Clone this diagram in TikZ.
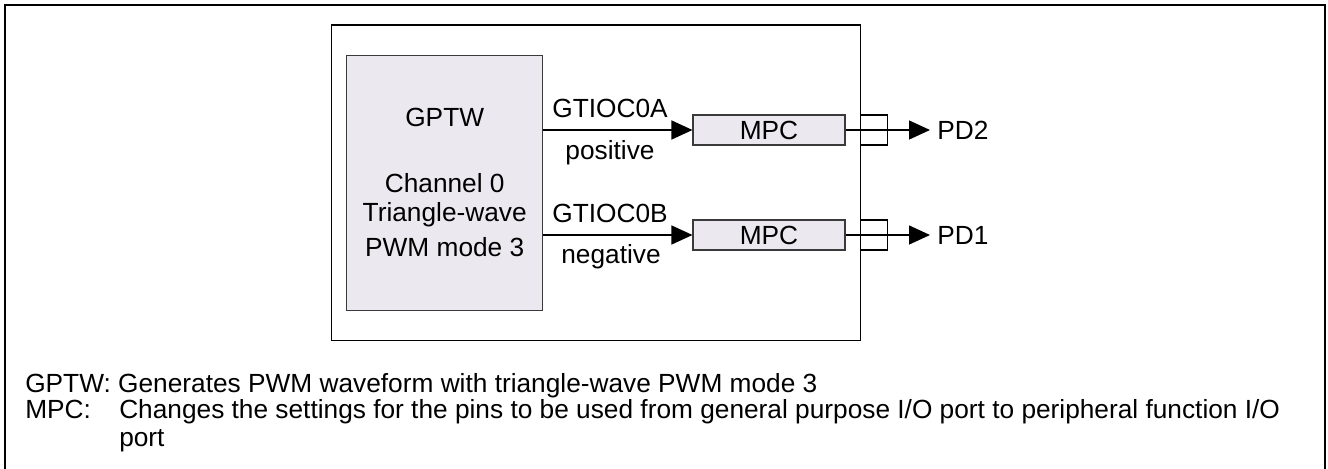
\documentclass[tikz,border=0pt]{standalone}
\usepackage{fontspec}
\setmainfont{Liberation Sans}
\usetikzlibrary{arrows.meta}
\definecolor{boxfill}{HTML}{EBE8F0}
\definecolor{boxline}{HTML}{3A3A3A}
\begin{document}
\begin{tikzpicture}[x=0.75pt,y=-0.75pt,
  font=\fontsize{19.7}{23}\selectfont,
  blockbox/.style={draw=boxline,fill=boxfill,line width=0.8pt,inner sep=0pt},
  pinbox/.style={draw=black,line width=0.8pt,inner sep=0pt,minimum width=20.25pt,minimum height=22.5pt},
  sig/.style={line width=1pt,-{Triangle[length=15.75pt,width=14.25pt]}},
  lbl/.style={inner sep=0pt},
  note/.style={inner sep=0pt,anchor=base west}]
\useasboundingbox (0,0) rectangle (1328,468);
% outer frame
\draw[line width=1.9pt] (5,5) rectangle (1325,490);
% inner frame
\node[draw=black,line width=1pt,inner sep=0pt,minimum width=396.6pt,minimum height=236.8pt] (frame) at (596.1,182.85) {};
% GPTW block
\node[blockbox,minimum width=147pt,minimum height=191.25pt] (gptw) at (444.7,183.2) {};
\node[lbl] (t1) at (444.7,117.5) {GPTW};
\node[lbl] (t2) at (444.7,183) {Channel 0};
\node[lbl] (t3) at (444.7,215) {Triangle-wave};
\node[lbl] (t4) at (444.7,246.7) {PWM mode 3};
% MPC blocks
\node[blockbox,minimum width=114pt,minimum height=22.5pt] (mpcA) at (769,130) {MPC};
\node[blockbox,minimum width=114pt,minimum height=22.5pt] (mpcB) at (769,235) {MPC};
% pins
\node[pinbox] (pinA) at (874.2,130) {};
\node[pinbox] (pinB) at (874.2,235) {};
\coordinate (tipA) at (930,130);
\coordinate (tipB) at (930,235);
% connectors
\draw[sig] (gptw.east |- mpcA.west) -- (mpcA.west);
\draw[sig] (gptw.east |- mpcB.west) -- (mpcB.west);
\draw[sig] (mpcA.east) -- (tipA);
\draw[sig] (mpcB.east) -- (tipB);
% labels
\node[lbl] (la) at (610,108) {GTIOC0A};
\node[lbl] (lb) at (610,153) {positive};
\node[lbl] (lc) at (610,213) {GTIOC0B};
\node[lbl] (ld) at (611,257) {negative};
\node[lbl,anchor=west] (pd2) at (937,130) {PD2};
\node[lbl,anchor=west] (pd1) at (937,235) {PD1};
% notes
\node[note] (n1) at (25,392) {GPTW: Generates PWM waveform with triangle-wave PWM mode 3};
\node[note] (n2) at (25,418) {MPC:};
\node[note] (n3) at (119,418) {Changes the settings for the pins to be used from general purpose I/O port to peripheral function I/O};
\node[note] (n4) at (119,446) {port};
\end{tikzpicture}
\end{document}
